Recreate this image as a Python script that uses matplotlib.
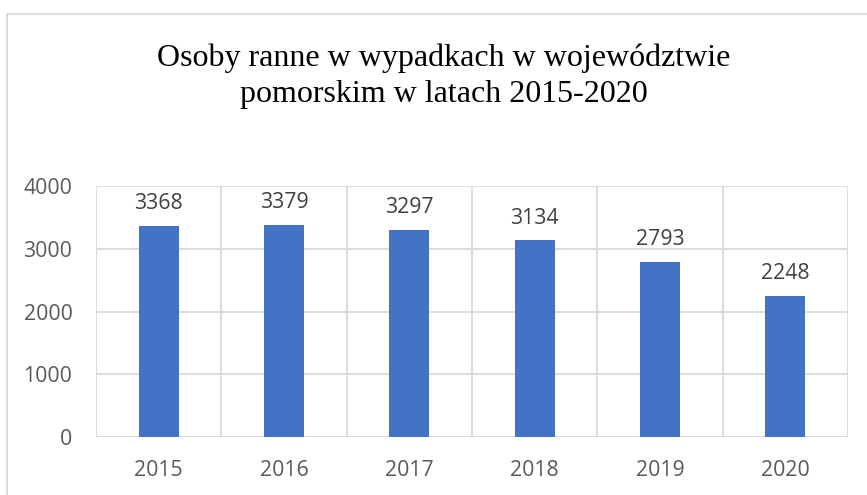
import matplotlib.pyplot as plt
from matplotlib.patches import Rectangle
import numpy as np

# dane
lata = ['2015', '2016', '2017', '2018', '2019', '2020']
ranni = [3368, 3379, 3297, 3134, 2793, 2248]
y_ticks = [0, 1000, 2000, 3000, 4000]

W, H = 867, 495
fig = plt.figure(figsize=(W / 100, H / 100), dpi=100)
ax = fig.add_axes([96 / W, 1 - 437 / H, (848 - 96) / W, (437 - 186) / H])

x = np.arange(len(lata))
ax.bar(x, ranni, width=0.32, color='#4472C4', zorder=3)

for xi, v in zip(x, ranni):
    ax.annotate(str(v), (xi, v), xytext=(0, 8.5), textcoords='offset points',
                ha='center', va='bottom', fontsize=15.3, color='#404040',
                family='Open Sans')

ax.set_xlim(-0.5, len(lata) - 0.5)
ax.set_ylim(0, 4000)
ax.set_yticks(y_ticks)
ax.set_xticks(x)
ax.set_xticklabels(lata)

# siatka: poziome linie + pionowe granice kategorii
for yv in y_ticks:
    ax.axhline(yv, color='#d9d9d9', lw=1.3, zorder=1)
for b in np.arange(-0.5, len(lata), 1.0):
    ax.axvline(b, color='#d9d9d9', lw=1.3, zorder=1)

for s in ax.spines.values():
    s.set_visible(False)
ax.tick_params(length=0, labelsize=15.3, labelcolor='#595959')
ax.tick_params(axis='x', pad=16.5)
ax.tick_params(axis='y', pad=17)
for lbl in ax.get_xticklabels() + ax.get_yticklabels():
    lbl.set_family('Open Sans')

fig.text(444 / W, 1 - 76 / H,
         'Osoby ranne w wypadkach w województwie\npomorskim w latach 2015-2020',
         ha='center', va='center', fontsize=23, family='Liberation Serif',
         color='black', linespacing=1.32)

# ramka wykresu
fig.patches.append(Rectangle((7 / W, -0.1), 2, 1 - 14 / H + 0.1,
                             transform=fig.transFigure, fill=False,
                             edgecolor='#d9d9d9', lw=1.3))

fig.savefig('out.png', dpi=100)
